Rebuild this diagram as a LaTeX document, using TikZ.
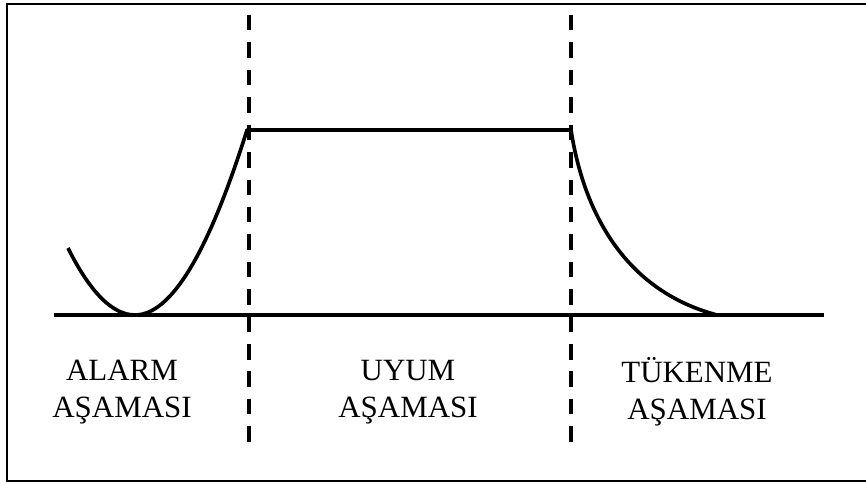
\documentclass[tikz,border=0pt]{standalone}
\usepackage{fontspec}
\setmainfont{Liberation Serif}
\usetikzlibrary{positioning}

\begin{document}
\begin{tikzpicture}[x=0.025cm,y=-0.025cm,
   frame/.style={line width=1pt},
   phase/.style={line width=2.8pt,dash pattern=on 11pt off 8.5pt},
   curve/.style={line width=2.6pt,line join=round},
   label/.style={align=center,font=\fontsize{22}{26.5}\selectfont}]
  \useasboundingbox (0,0) rectangle (866,484);
  \draw[frame] (866,4) -- (7,4) -- (7,481) -- (866,481);
  \draw[phase] (249,15) -- (249,450);
  \draw[phase] (571,15) -- (571,450);
  \draw[line width=2.2pt] (54,315) -- (824,315);
  \draw[curve] (68,248) .. controls (90.3,292.7) and (112.7,315) .. (135,315)
               .. controls (171,315) and (208.3,253.3) .. (247,130) -- (571,130)
               .. controls (585,220) and (630,292) .. (717,315);
  \node[label] (alarm) at (122,392) {ALARM\\AŞAMASI};
  \node[label] (uyum) at (408,392) {UYUM\\AŞAMASI};
  \node[label] (tukenme) at (697,392) {TÜKENME\\AŞAMASI};
\end{tikzpicture}
\end{document}
